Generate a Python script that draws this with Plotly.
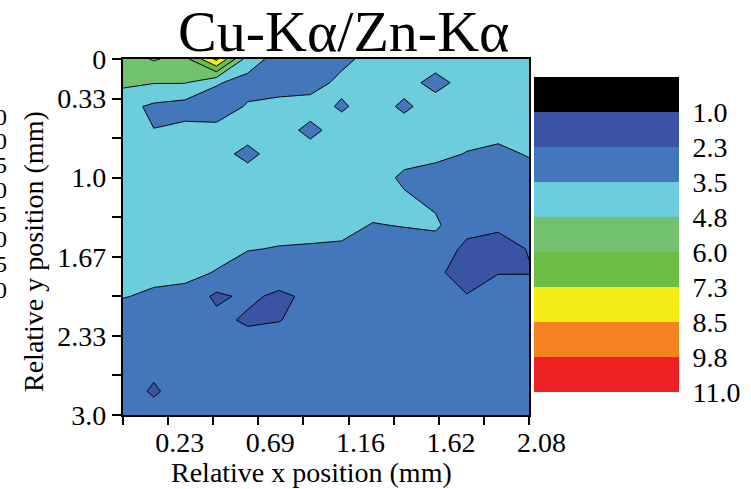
import plotly.graph_objects as go

W, H = 751, 489

# Scan grid positions (mm)
x_mm = [0.00, 0.16, 0.32, 0.48, 0.64, 0.80, 0.96, 1.12, 1.28, 1.44, 1.60, 1.76, 1.92, 2.08]
y_mm = [0.0, 0.2, 0.4, 0.6, 0.8, 1.0, 1.2, 1.4, 1.6, 1.8, 2.0, 2.2, 2.4, 2.6, 2.8, 3.0]

# Cu-Ka / Zn-Ka intensity ratio, one row per y position
ratio = [
    [5.4, 6.1, 5.6, 8.8, 4.1, 3.0, 2.9, 3.2, 3.9, 4.0, 4.0, 4.0, 4.0, 4.0],
    [5.0, 4.8, 4.8, 3.6, 3.1, 2.9, 3.0, 3.8, 3.9, 3.9, 3.15, 3.9, 4.0, 4.0],
    [3.9, 3.28, 3.0, 2.9, 3.6, 3.9, 4.0, 3.35, 4.0, 3.3, 4.0, 4.0, 4.0, 4.0],
    [3.8, 3.52, 3.8, 3.8, 4.0, 4.0, 3.2, 4.0, 4.0, 4.0, 4.0, 3.9, 3.9, 3.8],
    [3.8, 3.9, 4.0, 3.9, 3.2, 4.0, 4.0, 4.0, 4.0, 3.9, 3.8, 3.45, 3.2, 3.6],
    [3.9, 4.0, 4.1, 4.0, 4.0, 4.1, 4.0, 4.0, 4.0, 3.3, 3.0, 3.0, 3.0, 3.0],
    [3.9, 4.0, 4.0, 4.0, 4.0, 4.0, 4.0, 4.0, 3.9, 3.7, 3.3, 2.9, 2.9, 2.9],
    [3.9, 3.95, 4.0, 3.9, 3.85, 3.85, 3.85, 3.8, 3.45, 3.55, 3.7, 2.6, 2.4, 2.8],
    [3.85, 3.9, 3.9, 3.8, 3.55, 3.45, 3.4, 3.35, 3.0, 3.0, 2.9, 2.0, 1.9, 2.3],
    [3.8, 3.75, 3.75, 3.45, 3.0, 3.0, 3.0, 3.0, 2.9, 2.9, 2.45, 1.8, 2.2, 2.2],
    [3.55, 3.35, 3.2, 2.0, 2.5, 2.0, 2.5, 2.9, 2.9, 2.9, 2.7, 2.3, 2.9, 2.9],
    [3.0, 3.0, 2.9, 2.6, 2.05, 2.2, 2.7, 2.9, 3.0, 2.9, 2.9, 2.8, 3.0, 3.0],
    [2.9, 2.8, 2.9, 2.9, 2.8, 2.9, 3.0, 3.0, 3.0, 3.0, 3.0, 3.0, 3.0, 3.0],
    [2.9, 2.5, 2.8, 3.0, 2.9, 3.0, 3.0, 3.0, 2.9, 2.9, 3.0, 2.9, 3.0, 3.0],
    [2.8, 2.1, 2.8, 2.9, 3.0, 2.9, 2.9, 3.0, 3.0, 3.0, 3.0, 3.0, 2.9, 3.0],
    [2.9, 2.7, 2.9, 2.9, 2.9, 3.0, 3.0, 3.0, 3.0, 3.0, 3.0, 3.0, 3.0, 3.0],
]

# Contour levels and the limits of the colour scale
levels = [1.0, 2.25, 3.5, 4.75, 6.0, 7.25, 8.5, 9.75]
scale_low, scale_high = -0.25, 11.0
band_colors = ["#000000", "#3A53A4", "#4376BB", "#6CCDDC", "#71C16E",
               "#6CBD45", "#F5EB16", "#F58220", "#ED2124"]

x_ticklabels = ["", "0.23", "", "0.69", "", "1.16", "", "1.62", "", "2.08"]
y_ticklabels = ["0", "0.33", "", "1.0", "", "1.67", "", "2.33", "", "3.0"]
x_ticks = [i * x_mm[-1] / (len(x_ticklabels) - 1) for i in range(len(x_ticklabels))]
y_ticks = [i * y_mm[-1] / (len(y_ticklabels) - 1) for i in range(len(y_ticklabels))]

# Neighbouring scale labels at the left edge
side_labels = ["1.0", "2.0", "2.5", "3.0", "3.5", "4.0", "4.5", "5.0"]
side_label_y = [117, 141, 165, 190, 214, 239, 264, 290]

FONT = "Liberation Serif"
LABEL_SIZE = 28
n_bands = len(band_colors)
scale = [[k / (n_bands - 1), c] for k, c in enumerate(band_colors)]
edges = [scale_low] + levels + [scale_high]
mids = [(a + b) / 2 for a, b in zip(edges[:-1], edges[1:])]

fig = go.Figure()
fig.add_trace(go.Contour(
    x=x_mm, y=y_mm, z=ratio,
    autocontour=False,
    contours=dict(start=levels[0], end=levels[-1], size=levels[1] - levels[0],
                  coloring="fill", showlines=True),
    line=dict(color="black", width=1, smoothing=0),
    colorscale=scale, showscale=False, hoverinfo="skip",
    xaxis="x", yaxis="y",
))

# Colour key drawn as a one-column heatmap of the bands
fig.add_trace(go.Heatmap(
    x=[0, 1], y=edges, z=[[m] for m in mids],
    colorscale=scale, zmin=mids[0], zmax=mids[-1],
    showscale=False, hoverinfo="skip", xaxis="x2", yaxis="y2",
))

axis_common = dict(
    showline=True, linecolor="black", linewidth=1.5, mirror=True,
    ticks="outside", tickcolor="black", tickwidth=1.5,
    showgrid=False, zeroline=False, automargin=False,
    tickfont=dict(family=FONT, size=LABEL_SIZE, color="black"),
    tickmode="array",
)

annotations = [
    dict(text="Cu-K\u03b1/Zn-K\u03b1", x=343 / W, y=1 - 32 / H, xref="paper", yref="paper",
         xanchor="center", yanchor="middle", showarrow=False,
         font=dict(family=FONT, size=58, color="black")),
    dict(text="Relative x position (mm)", x=311 / W, y=1 - 472 / H, xref="paper", yref="paper",
         xanchor="center", yanchor="middle", showarrow=False,
         font=dict(family=FONT, size=LABEL_SIZE, color="black")),
    dict(text="Relative y position (mm)", x=33 / W, y=1 - 252 / H, xref="paper", yref="paper",
         xanchor="center", yanchor="middle", showarrow=False, textangle=-90,
         font=dict(family=FONT, size=LABEL_SIZE, color="black")),
]
for txt, py in zip(side_labels, side_label_y):
    annotations.append(dict(text=txt, x=9 / W, y=1 - py / H, xref="paper", yref="paper",
                            xanchor="right", yanchor="middle", showarrow=False,
                            font=dict(family=FONT, size=24, color="black")))

fig.update_layout(
    width=W, height=H,
    margin=dict(l=0, r=0, t=0, b=0, autoexpand=False),
    paper_bgcolor="white", plot_bgcolor="white",
    showlegend=False,
    font=dict(family=FONT, size=LABEL_SIZE, color="black"),
    xaxis=dict(axis_common, domain=[122.5 / W, 529.4 / W], range=[x_mm[0], x_mm[-1]],
               tickvals=x_ticks, ticktext=x_ticklabels, ticklen=8, anchor="y",
               ticklabelshift=12, ticklabelstandoff=-6),
    yaxis=dict(axis_common, domain=[1 - 415 / H, 1 - 59 / H], range=[y_mm[-1], y_mm[0]],
               tickvals=y_ticks, ticktext=y_ticklabels, ticklen=9, anchor="x"),
    xaxis2=dict(domain=[534 / W, 679 / W], range=[0, 1], visible=False, anchor="y2",
                automargin=False),
    yaxis2=dict(domain=[1 - 392 / H, 1 - 77 / H], range=[scale_high, scale_low],
                side="right", anchor="x2", tickmode="array", tickvals=edges[1:],
                tickformat=".1f", ticks="outside", ticklen=7, automargin=False,
                tickcolor="rgba(0,0,0,0)", showline=False, showgrid=False, zeroline=False,
                tickfont=dict(family=FONT, size=LABEL_SIZE, color="black")),
    annotations=annotations,
)

fig.write_html("out.html")
